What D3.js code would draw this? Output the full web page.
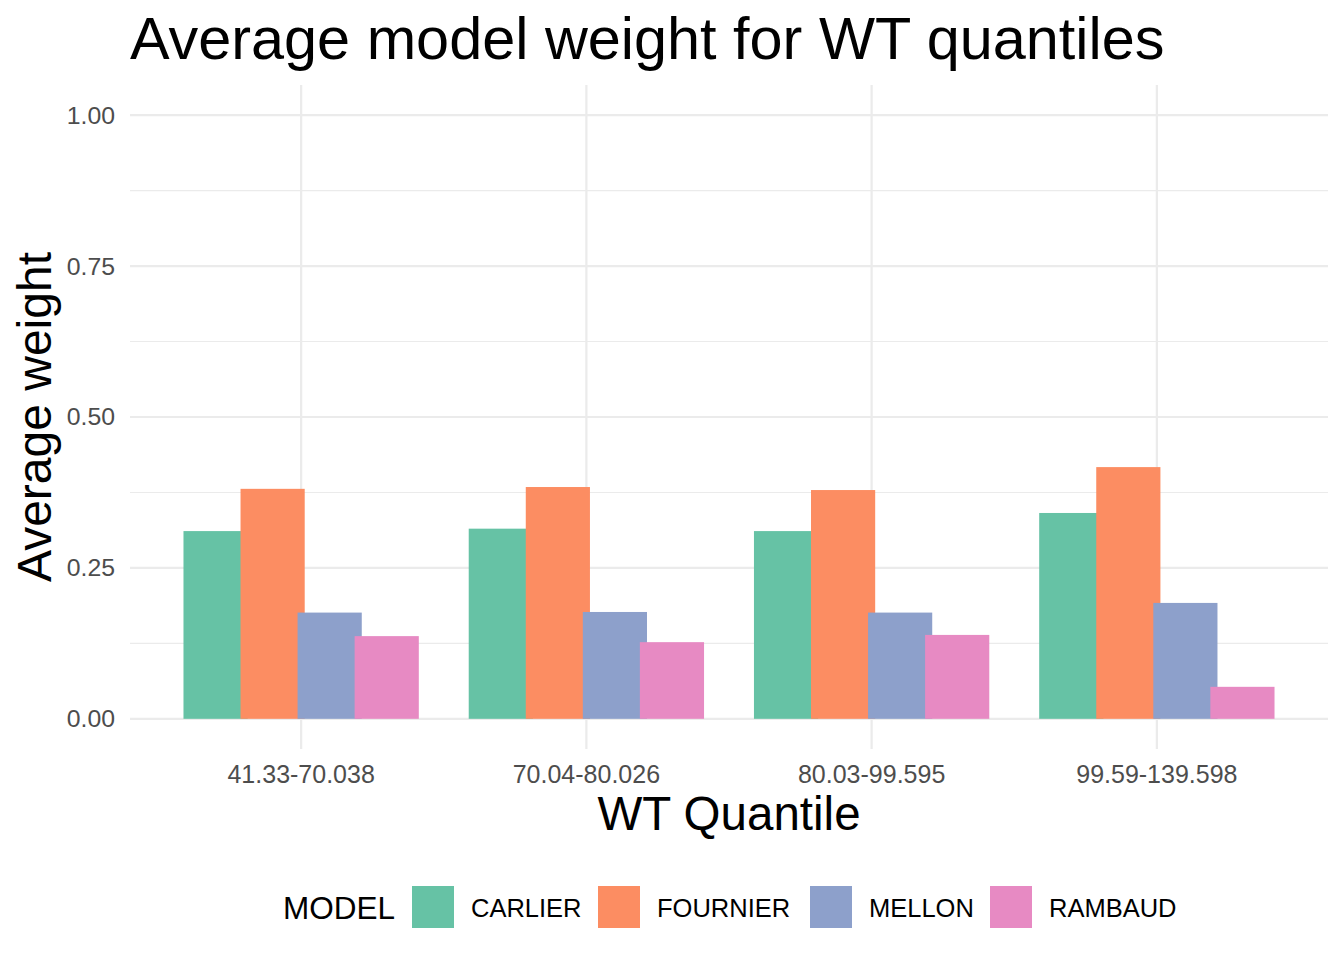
<!DOCTYPE html>
<html>
<head>
<meta charset="utf-8">
<script src="https://cdn.jsdelivr.net/npm/d3@7"></script>
<style>
  body { margin: 0; background: #fff; }
  text { font-family: "Liberation Sans", Arial, sans-serif; }
</style>
</head>
<body>
<div id="chart"></div>
<script>
// values
var quantiles = ["41.33-70.038", "70.04-80.026", "80.03-99.595", "99.59-139.598"];
var models = ["CARLIER", "FOURNIER", "MELLON", "RAMBAUD"];
var carlier  = [0.311, 0.315, 0.311, 0.341];
var fournier = [0.381, 0.384, 0.379, 0.417];
var mellon   = [0.176, 0.177, 0.176, 0.192];
var rambaud  = [0.137, 0.127, 0.139, 0.053];
var yTicks = [0, 0.25, 0.5, 0.75, 1];
var yMinor = [0.125, 0.375, 0.625, 0.875];
var colors = ["#66C2A5", "#FC8D62", "#8DA0CB", "#E78AC3"];

var series = [carlier, fournier, mellon, rambaud];
var data = [];
quantiles.forEach((q, qi) => {
    models.forEach((m, mi) => {
        data.push({quantile: q, model: m, value: series[mi][qi]});
    });
});

var width = 1344, height = 960;
var panel = {left: 130, right: 1328, top: 85, bottom: 749};

var svg = d3.select("#chart").append("svg")
    .attr("width", width)
    .attr("height", height);

var x = d3.scaleBand()
    .domain(quantiles)
    .range([panel.left, panel.right])
    .paddingInner(0)
    .paddingOuter(0.1);

var step = x.step();
var dodge = d3.scaleBand()
    .domain(models)
    .range([-0.4 * step, 0.4 * step]);
var barW = 0.225 * step;

var y = d3.scaleLinear()
    .domain([-0.05, 1.05])
    .range([panel.bottom, panel.top]);

var color = d3.scaleOrdinal().domain(models).range(colors);

// grid
var grid = svg.append("g");
grid.selectAll(".minor").data(yMinor).enter().append("line")
    .attr("x1", panel.left).attr("x2", panel.right)
    .attr("y1", d => y(d)).attr("y2", d => y(d))
    .attr("stroke", "#EBEBEB").attr("stroke-width", 1.1);
grid.selectAll(".major").data(yTicks).enter().append("line")
    .attr("x1", panel.left).attr("x2", panel.right)
    .attr("y1", d => y(d)).attr("y2", d => y(d))
    .attr("stroke", "#EBEBEB").attr("stroke-width", 2.2);
grid.selectAll(".vmajor").data(quantiles).enter().append("line")
    .attr("x1", d => x(d) + x.bandwidth() / 2).attr("x2", d => x(d) + x.bandwidth() / 2)
    .attr("y1", panel.top).attr("y2", panel.bottom)
    .attr("stroke", "#EBEBEB").attr("stroke-width", 2.2);

// bars
svg.append("g").selectAll("rect")
    .data(data)
    .enter().append("rect")
    .attr("x", d => x(d.quantile) + x.bandwidth() / 2 + dodge(d.model) + dodge.bandwidth() / 2 - barW / 2)
    .attr("y", d => y(d.value))
    .attr("width", barW)
    .attr("height", d => y(0) - y(d.value))
    .attr("fill", d => color(d.model));

// y axis
var yAxis = svg.append("g")
    .attr("transform", "translate(" + (panel.left - 15) + ",0)")
    .call(d3.axisLeft(y).tickValues(yTicks).tickFormat(d3.format(".2f")).tickSize(0).tickPadding(0));
yAxis.select(".domain").remove();
yAxis.selectAll("text")
    .attr("fill", "#4D4D4D")
    .style("font-size", "24.8px")
    .style("font-family", "'Liberation Sans', Arial, sans-serif");

// x axis
var xAxis = svg.append("g")
    .attr("transform", "translate(0," + panel.bottom + ")")
    .call(d3.axisBottom(x).tickSize(0).tickPadding(0));
xAxis.select(".domain").remove();
xAxis.selectAll("text")
    .attr("dy", null)
    .attr("y", 34)
    .attr("fill", "#4D4D4D")
    .style("font-size", "25px")
    .style("font-family", "'Liberation Sans', Arial, sans-serif");

// titles
svg.append("text")
    .attr("x", 130).attr("y", 59)
    .style("font-size", "59.4px")
    .text("Average model weight for WT quantiles");

svg.append("text")
    .attr("x", (panel.left + panel.right) / 2).attr("y", 830)
    .attr("text-anchor", "middle")
    .style("font-size", "47.5px")
    .text("WT Quantile");

svg.append("text")
    .attr("transform", "translate(51," + ((panel.top + panel.bottom) / 2) + ") rotate(-90)")
    .attr("text-anchor", "middle")
    .style("font-size", "48px")
    .text("Average weight");

// legend
var legend = svg.append("g");
legend.append("text")
    .attr("x", 283).attr("y", 919)
    .style("font-size", "31.5px")
    .text("MODEL");

var keyX = [412, 598, 810, 990];
var items = legend.selectAll(".item").data(models).enter().append("g")
    .attr("transform", (d, i) => "translate(" + keyX[i] + ",886)");
items.append("rect")
    .attr("width", 42).attr("height", 42)
    .attr("fill", d => color(d));
items.append("text")
    .attr("x", 59).attr("y", 31)
    .style("font-size", "25.5px")
    .text(d => d);
</script>
</body>
</html>
